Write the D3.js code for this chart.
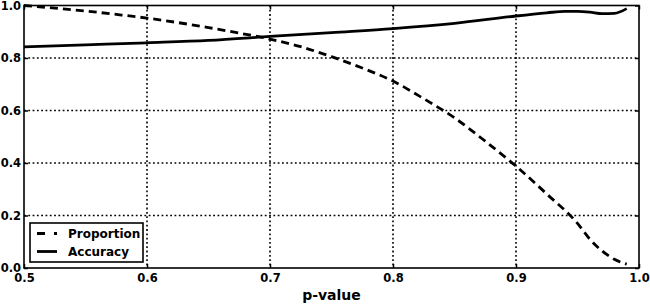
<!DOCTYPE html>
<html>
<head>
<meta charset="utf-8">
<script src="https://cdn.jsdelivr.net/npm/d3@7"></script>
<style>
  html, body { margin: 0; padding: 0; background: #fff; }
  svg { display: block; font-family: "DejaVu Sans", sans-serif; font-weight: bold; }
</style>
</head>
<body>
<div id="chart"></div>
<script>
const width = 650;
const height = 305;
const marginTop = 5.5;
const marginRight = 11;
const marginBottom = 37;
const marginLeft = 24;

// p-value grid the curves were read on
const proportionP = [0.5, 0.525, 0.55, 0.575, 0.6, 0.625, 0.65, 0.675, 0.7, 0.725, 0.75, 0.775, 0.8, 0.825, 0.85, 0.875, 0.9, 0.925, 0.95, 0.96, 0.97, 0.98, 0.99];
const proportionValues = [1.0, 0.99, 0.979, 0.966, 0.952, 0.935, 0.916, 0.895, 0.872, 0.843, 0.805, 0.762, 0.712, 0.645, 0.572, 0.483, 0.388, 0.282, 0.17, 0.11, 0.065, 0.033, 0.015];

const accuracyP = [0.5, 0.55, 0.6, 0.65, 0.7, 0.75, 0.8, 0.85, 0.9, 0.925, 0.94, 0.95, 0.96, 0.97, 0.98, 0.99];
const accuracyValues = [0.842, 0.85, 0.858, 0.867, 0.882, 0.897, 0.912, 0.932, 0.96, 0.972, 0.978, 0.978, 0.975, 0.969, 0.97, 0.988];

const xTicks = [0.5, 0.6, 0.7, 0.8, 0.9, 1.0];
const yTicks = [0.0, 0.2, 0.4, 0.6, 0.8, 1.0];

const series = [
    { name: "Proportion", xs: proportionP, ys: proportionValues, dash: "8,5" },
    { name: "Accuracy", xs: accuracyP, ys: accuracyValues, dash: null }
];

const svg = d3.select("#chart")
    .append("svg")
    .attr("width", width)
    .attr("height", height)
    .attr("viewBox", [0, 0, width, height]);

const x = d3.scaleLinear()
    .domain([0.5, 1.0])
    .range([marginLeft, width - marginRight]);

const y = d3.scaleLinear()
    .domain([0, 1])
    .range([height - marginBottom, marginTop]);

// dotted grid
svg.append("g")
    .selectAll("line")
    .data(xTicks.slice(1, -1))
    .join("line")
    .attr("x1", d => x(d)).attr("x2", d => x(d))
    .attr("y1", y(1)).attr("y2", y(0))
    .attr("stroke", "#000")
    .attr("stroke-width", 1.6)
    .attr("stroke-dasharray", "1.8,2.5");

svg.append("g")
    .selectAll("line")
    .data(yTicks.slice(1, -1))
    .join("line")
    .attr("x1", x(0.5)).attr("x2", x(1.0))
    .attr("y1", d => y(d)).attr("y2", d => y(d))
    .attr("stroke", "#000")
    .attr("stroke-width", 1.6)
    .attr("stroke-dasharray", "1.8,2.5");

// axes: ticks pointing inwards on all four sides
const tickSize = 4;
svg.append("g")
    .attr("transform", `translate(0,${y(0)})`)
    .call(d3.axisBottom(x).tickValues(xTicks).tickFormat(d3.format(".1f")).tickSize(-tickSize).tickPadding(6))
    .call(g => g.select(".domain").remove())
    .call(g => g.selectAll("text").attr("font-size", 11.5).attr("font-family", "DejaVu Sans").attr("font-weight", "bold").attr("fill", "#000"));

svg.append("g")
    .attr("transform", `translate(0,${y(1)})`)
    .call(d3.axisTop(x).tickValues(xTicks).tickFormat("").tickSize(-tickSize))
    .call(g => g.select(".domain").remove());

svg.append("g")
    .attr("transform", `translate(${x(0.5)},0)`)
    .call(d3.axisLeft(y).tickValues(yTicks).tickFormat(d3.format(".1f")).tickSize(-tickSize).tickPadding(3))
    .call(g => g.select(".domain").remove())
    .call(g => g.selectAll("text").attr("font-size", 11.5).attr("font-family", "DejaVu Sans").attr("font-weight", "bold").attr("fill", "#000"));

svg.append("g")
    .attr("transform", `translate(${x(1.0)},0)`)
    .call(d3.axisRight(y).tickValues(yTicks).tickFormat("").tickSize(-tickSize))
    .call(g => g.select(".domain").remove());

svg.selectAll(".tick line").attr("stroke", "#000").attr("stroke-width", 1.5);

// curves
const line = d3.line()
    .x(d => x(d[0]))
    .y(d => y(d[1]))
    .curve(d3.curveMonotoneX);

svg.append("g")
    .selectAll("path")
    .data(series)
    .join("path")
    .attr("d", s => line(s.xs.map((p, i) => [p, s.ys[i]])))
    .attr("fill", "none")
    .attr("stroke", "#000")
    .attr("stroke-width", 2.8)
    .attr("stroke-dasharray", s => s.dash);

// frame
svg.append("rect")
    .attr("x", x(0.5))
    .attr("y", y(1))
    .attr("width", x(1.0) - x(0.5))
    .attr("height", y(0) - y(1))
    .attr("fill", "none")
    .attr("stroke", "#000")
    .attr("stroke-width", 1.6);

// x label
svg.append("text")
    .attr("x", (x(0.5) + x(1.0)) / 2)
    .attr("y", 300)
    .attr("text-anchor", "middle")
    .attr("font-size", 14)
    .text("p-value");

// legend
const legend = svg.append("g").attr("transform", "translate(30,223)");
legend.append("rect")
    .attr("width", 113)
    .attr("height", 39)
    .attr("fill", "#fff")
    .attr("stroke", "#000")
    .attr("stroke-width", 1.6);

const item = legend.selectAll("g.item")
    .data(series)
    .join("g")
    .attr("class", "item")
    .attr("transform", (d, i) => `translate(0,${10.5 + i * 18})`);

item.append("line")
    .attr("x1", 7).attr("x2", 27)
    .attr("stroke", "#000")
    .attr("stroke-width", 2.8)
    .attr("stroke-dasharray", d => d.dash ? "8,9" : null);

item.append("text")
    .attr("x", 38)
    .attr("dy", "0.35em")
    .attr("font-size", 12)
    .text(d => d.name);
</script>
</body>
</html>
